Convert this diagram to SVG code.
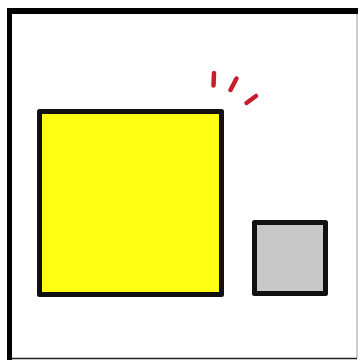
<svg xmlns="http://www.w3.org/2000/svg" width="358" height="360" viewBox="0 0 358 360">
<style>
.box{stroke:#111;stroke-width:5;stroke-linejoin:round}
.mark{stroke:#c81e2c;stroke-width:4.5;stroke-linecap:round;fill:none}
</style>
<rect x="0" y="0" width="358" height="360" fill="#fff"/>
<g id="frame">
<line x1="357" y1="14" x2="357" y2="358" stroke="#bbb" stroke-width="1.5"/>
<line x1="7" y1="358.5" x2="357" y2="358.5" stroke="#222" stroke-width="1.5"/>
<rect x="7" y="8" width="351" height="6" fill="#000"/>
<rect x="7" y="8" width="5" height="352" fill="#000"/>
</g>
<g id="big">
<rect class="box" x="39.5" y="111.5" width="182" height="183" fill="#ffff14"/>
</g>
<g id="small">
<rect class="box" x="254.5" y="222.5" width="71" height="71" fill="#c8c8c8"/>
</g>
<g id="marks">
<line class="mark" x1="214" y1="73" x2="213.5" y2="85.5"/>
<line class="mark" x1="236.5" y1="78.5" x2="230.5" y2="90"/>
<line class="mark" x1="256" y1="96" x2="246.5" y2="103"/>
</g>
</svg>
